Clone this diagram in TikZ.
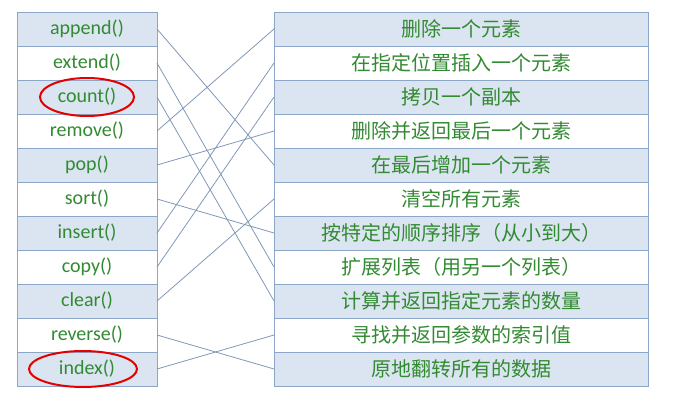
\documentclass[tikz,border=0pt]{standalone}
\usepackage{fontspec}
\setmainfont{Carlito}
\newfontfamily\cjk{Noto Sans CJK SC}
\usepackage{xcolor}
\usepackage{tikz}
\usetikzlibrary{positioning}
\definecolor{rowblue}{RGB}{219,229,241}
\definecolor{gridblue}{RGB}{140,166,200}
\definecolor{linkgray}{RGB}{128,152,184}
\definecolor{textgreen}{RGB}{50,138,50}
\tikzstyle{method} = [rectangle, draw=gridblue, line width=1pt, outer sep=0pt, inner sep=0pt, minimum width=140pt, minimum height=34pt, text=textgreen, font=\fontsize{20}{24}\selectfont]
\tikzstyle{meaning} = [rectangle, draw=gridblue, line width=1pt, outer sep=0pt, inner sep=0pt, minimum width=374pt, minimum height=34pt, text=textgreen, font=\cjk\fontsize{20}{24}\selectfont]
\tikzstyle{shaded} = [fill=rowblue]
\tikzstyle{link} = [draw=linkgray, line width=0.8pt]
\tikzstyle{ring} = [draw=red!90!black, line width=2pt]

\begin{document}
\begin{tikzpicture}[x=1pt, y=-1pt]
		\useasboundingbox (0,0) rectangle (678,407);
		\coordinate (methods) at (87,29);
		\coordinate (meanings) at (461,29);
		% List methods
		\node[method, shaded, name=append] at (methods) {append()};
		\node[method, below=0pt of append] (extend) {extend()};
		\node[method, shaded, below=0pt of extend] (count) {count()};
		\node[method, below=0pt of count] (remove) {remove()};
		\node[method, shaded, below=0pt of remove] (pop) {pop()};
		\node[method, below=0pt of pop] (sort) {sort()};
		\node[method, shaded, below=0pt of sort] (insert) {insert()};
		\node[method, below=0pt of insert] (copy) {copy()};
		\node[method, shaded, below=0pt of copy] (clear) {clear()};
		\node[method, below=0pt of clear] (reverse) {reverse()};
		\node[method, shaded, below=0pt of reverse] (index) {index()};
		% What they do
		\node[meaning, shaded, name=delone] at (meanings) {删除一个元素};
		\node[meaning, below=0pt of delone] (insertat) {在指定位置插入一个元素};
		\node[meaning, shaded, below=0pt of insertat] (copyof) {拷贝一个副本};
		\node[meaning, below=0pt of copyof] (dellast) {删除并返回最后一个元素};
		\node[meaning, shaded, below=0pt of dellast] (addlast) {在最后增加一个元素};
		\node[meaning, below=0pt of addlast] (emptyall) {清空所有元素};
		\node[meaning, shaded, below=0pt of emptyall] (ordered) {按特定的顺序排序（从小到大）};
		\node[meaning, below=0pt of ordered] (extendby) {扩展列表（用另一个列表）};
		\node[meaning, shaded, below=0pt of extendby] (howmany) {计算并返回指定元素的数量};
		\node[meaning, below=0pt of howmany] (findpos) {寻找并返回参数的索引值};
		\node[meaning, shaded, below=0pt of findpos] (flipall) {原地翻转所有的数据};
		% Matching lines
		\draw [link] (append.east)--(addlast.west);
		\draw [link] (extend.east)--(extendby.west);
		\draw [link] (count.east)--(howmany.west);
		\draw [link] (remove.east)--(delone.west);
		\draw [link] (pop.east)--(dellast.west);
		\draw [link] (sort.east)--(ordered.west);
		\draw [link] (insert.east)--(insertat.west);
		\draw [link] (copy.east)--(copyof.west);
		\draw [link] (clear.east)--(emptyall.west);
		\draw [link] (reverse.east)--(flipall.west);
		\draw [link] (index.east)--(findpos.west);
		% Red rings
		\draw [ring] (count.center) ellipse [x radius=47pt, y radius=19pt];
		\draw [ring] ([xshift=-4pt]index.center) ellipse [x radius=54pt, y radius=18pt];
		\end{tikzpicture}
\end{document}
